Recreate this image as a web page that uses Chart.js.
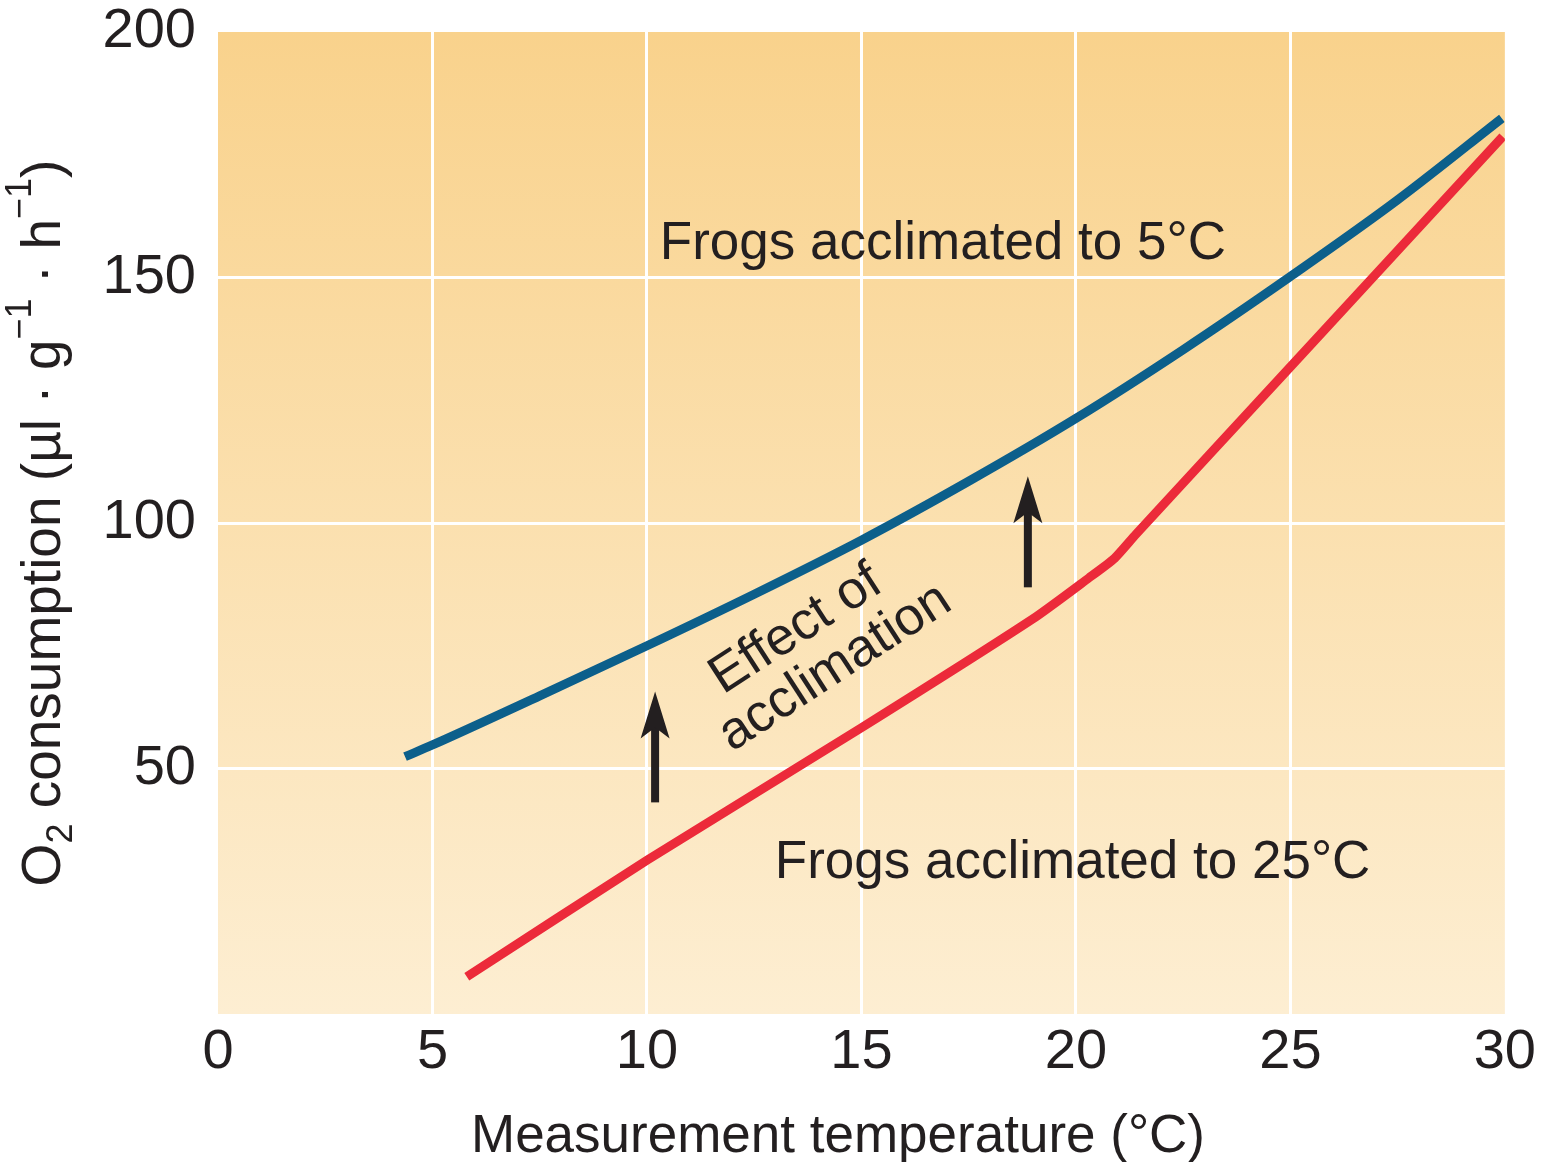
<!DOCTYPE html>
<html><head><meta charset="utf-8">
<script src="https://cdn.jsdelivr.net/npm/chart.js@4.4.0/dist/chart.umd.min.js"></script>
<style>html,body{margin:0;padding:0;background:#fff}#wrap{width:1541px;height:1162px;position:relative}</style>
</head><body><div id="wrap"><canvas id="c"></canvas></div>
<script>
// ---- data ----
const xTicks = [0, 5, 10, 15, 20, 25, 30];
const yTicks = [50, 100, 150, 200];
const blueX = [4.36, 5, 7.5, 10, 12.5, 15, 17.5, 20, 22.5, 25, 27.5, 29.93];
const blueY = [52.4, 54.8, 64.8, 75, 85.5, 96.5, 108.5, 121.3, 135.3, 150.2, 165.8, 182.4];
const redX = [5.8, 10, 15, 19, 20.3, 20.9, 21.4, 25, 29.95];
const redY = [7.6, 31.3, 58.3, 80.5, 88.8, 92.8, 97.7, 131.8, 178.7];
const blueLabel = 'Frogs acclimated to 5°C';
const redLabel = 'Frogs acclimated to 25°C';
const effectLines = ['Effect of', 'acclimation'];
const xTitle = 'Measurement temperature (°C)';
const arrowX = [10.19, 18.88];
const arrowFrom = [43.1, 86.9];
const arrowTo = [65.7, 109.5];

const FONT = "'Liberation Sans', Arial, Helvetica, sans-serif";
const INK = '#231f20';

const annot = {
  id: 'annot',
  beforeDraw(chart) {
    const { ctx, chartArea: a } = chart;
    const g = ctx.createLinearGradient(0, a.top, 0, a.bottom);
    g.addColorStop(0, '#f9d28c');
    g.addColorStop(1, '#fdeed2');
    ctx.save();
    ctx.fillStyle = g;
    ctx.fillRect(a.left, a.top, a.right - a.left, a.bottom - a.top);
    ctx.restore();
  },
  afterDatasetsDraw(chart) {
    const { ctx } = chart;
    const sx = chart.scales.x, sy = chart.scales.y;
    const X = v => sx.getPixelForValue(v), Y = v => sy.getPixelForValue(v);
    ctx.save();
    ctx.fillStyle = INK;
    ctx.font = '53px ' + FONT;
    ctx.textAlign = 'left';
    ctx.textBaseline = 'alphabetic';
    ctx.fillText(blueLabel, X(10.30), Y(153.7));
    ctx.fillText(redLabel, X(12.98), Y(27.8));
    // rotated text
    const ang = -33 * Math.PI / 180;
    const starts = [[11.77, 65.0], [11.98, 53.3]];
    effectLines.forEach((t, i) => {
      ctx.save();
      ctx.translate(X(starts[i][0]), Y(starts[i][1]));
      ctx.rotate(ang);
      ctx.fillText(t, 0, 0);
      ctx.restore();
    });
    // arrows
    for (let i = 0; i < arrowX.length; i++) {
      const x = X(arrowX[i]), yb = Y(arrowFrom[i]), yt = Y(arrowTo[i]);
      ctx.fillRect(x - 4, yt + 30, 8, yb - yt - 30);
      ctx.beginPath();
      ctx.moveTo(x, yt);
      ctx.lineTo(x + 14.5, yt + 47);
      ctx.lineTo(x, yt + 36);
      ctx.lineTo(x - 14.5, yt + 47);
      ctx.closePath();
      ctx.fill();
    }
    ctx.restore();
  },
  afterDraw(chart) {
    const { ctx } = chart;
    ctx.save();
    ctx.fillStyle = INK;
    ctx.textBaseline = 'alphabetic';
    ctx.textAlign = 'center';
    ctx.font = '53px ' + FONT;
    ctx.fillText(xTitle, 838, 1152);
    // y title rich
    const base = 55, small = 36;
    const segs = [
      { t: 'O', s: base, dy: 0 },
      { t: '2', s: small, dy: 12 },
      { t: ' consumption (µl · g', s: base, dy: 0 },
      { t: '−1', s: small, dy: -29 },
      { t: ' · h', s: base, dy: 0 },
      { t: '−1', s: small, dy: -29 },
      { t: ')', s: base, dy: 0 }
    ];
    let w = 0;
    segs.forEach(sg => { ctx.font = sg.s + 'px ' + FONT; sg.w = ctx.measureText(sg.t).width; w += sg.w; });
    ctx.translate(60, 523);
    ctx.rotate(-Math.PI / 2);
    ctx.textAlign = 'left';
    let cx = -w / 2;
    segs.forEach(sg => { ctx.font = sg.s + 'px ' + FONT; ctx.fillText(sg.t, cx, sg.dy); cx += sg.w; });
    ctx.restore();
  }
};

const gridColor = edgeVals => c => (c.tick && edgeVals.includes(c.tick.value)) ? 'rgba(0,0,0,0)' : '#ffffff';

new Chart(document.getElementById('c'), {
  type: 'line',
  data: {
    datasets: [
      { data: blueX.map((x, i) => ({ x, y: blueY[i] })), borderColor: '#0c5f8b', borderWidth: 9, pointRadius: 0, cubicInterpolationMode: 'monotone', borderCapStyle: 'butt', fill: false },
      { data: redX.map((x, i) => ({ x, y: redY[i] })), borderColor: '#ec2a3a', borderWidth: 9, pointRadius: 0, tension: 0.2, borderJoinStyle: 'round', borderCapStyle: 'butt', fill: false }
    ]
  },
  options: {
    responsive: true, maintainAspectRatio: false, animation: false,
    layout: { padding: { left: 0, top: 32, right: 36, bottom: 0 } },
    plugins: { legend: { display: false }, tooltip: { enabled: false } },
    scales: {
      x: {
        type: 'linear', min: 0, max: 30,
        afterBuildTicks: s => { s.ticks = xTicks.map(v => ({ value: v })); },
        afterFit: s => { s.height = 148; },
        border: { display: false },
        grid: { color: gridColor([0, 30]), lineWidth: 3, drawTicks: false },
        ticks: { color: INK, font: { family: FONT, size: 56 }, padding: 5, maxRotation: 0, autoSkip: false }
      },
      y: {
        type: 'linear', min: 0, max: 200,
        afterBuildTicks: s => { s.ticks = yTicks.map(v => ({ value: v })); },
        afterFit: s => { s.width = 218; },
        border: { display: false },
        grid: { color: gridColor([0, 200]), lineWidth: 3, drawTicks: false },
        ticks: { color: INK, font: { family: FONT, size: 56, lineHeight: 0.3 }, padding: 22, autoSkip: false }
      }
    }
  },
  plugins: [annot]
});
</script>
</body></html>
